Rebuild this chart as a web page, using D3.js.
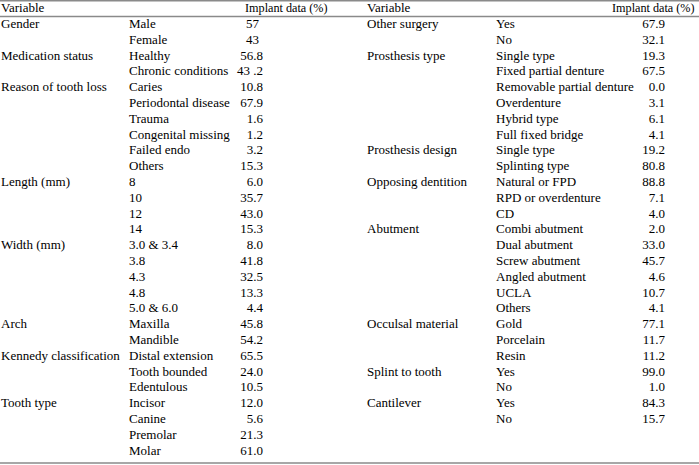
<!DOCTYPE html>
<html>
<head>
<meta charset="utf-8">
<script src="https://cdn.jsdelivr.net/npm/d3@7"></script>
<style>
  body { margin: 0; background: #fff; }
  svg { display: block; font-family: "Liberation Serif", "Times New Roman", serif; }
</style>
</head>
<body>
<svg width="699" height="465"></svg>
<script>
// left half of the table
const leftVars = ["Gender", "Medication status", "Reason of tooth loss", "Length (mm)", "Width (mm)",
                  "Arch", "Kennedy classification", "Tooth type"];
const leftCats = [
  ["Male", "Female"],
  ["Healthy", "Chronic conditions"],
  ["Caries", "Periodontal disease", "Trauma", "Congenital missing", "Failed endo", "Others"],
  ["8", "10", "12", "14"],
  ["3.0 & 3.4", "3.8", "4.3", "4.8", "5.0 & 6.0"],
  ["Maxilla", "Mandible"],
  ["Distal extension", "Tooth bounded", "Edentulous"],
  ["Incisor", "Canine", "Premolar", "Molar"]
];
const leftVals = [
  ["57", "43"],
  ["56.8", "43 .2"],
  ["10.8", "67.9", "1.6", "1.2", "3.2", "15.3"],
  ["6.0", "35.7", "43.0", "15.3"],
  ["8.0", "41.8", "32.5", "13.3", "4.4"],
  ["45.8", "54.2"],
  ["65.5", "24.0", "10.5"],
  ["12.0", "5.6", "21.3", "61.0"]
];

// right half of the table
const rightVars = ["Other surgery", "Prosthesis type", "Prosthesis design", "Opposing dentition",
                   "Abutment", "Occulsal material", "Splint to tooth", "Cantilever"];
const rightCats = [
  ["Yes", "No"],
  ["Single type", "Fixed partial denture", "Removable partial denture", "Overdenture", "Hybrid type", "Full fixed bridge"],
  ["Single type", "Splinting type"],
  ["Natural or FPD", "RPD or overdenture", "CD"],
  ["Combi abutment", "Dual abutment", "Screw abutment", "Angled abutment", "UCLA", "Others"],
  ["Gold", "Porcelain", "Resin"],
  ["Yes", "No"],
  ["Yes", "No"]
];
const rightVals = [
  ["67.9", "32.1"],
  ["19.3", "67.5", "0.0", "3.1", "6.1", "4.1"],
  ["19.2", "80.8"],
  ["88.8", "7.1", "4.0"],
  ["2.0", "33.0", "45.7", "4.6", "10.7", "4.1"],
  ["77.1", "11.7", "11.2"],
  ["99.0", "1.0"],
  ["84.3", "15.7"]
];

const header = ["Variable", "Implant data (%)"];

const svg = d3.select("svg"),
      W = +svg.attr("width");

function flatten(vars, cats, vals) {
  const rows = [];
  vars.forEach((v, i) => {
    cats[i].forEach((c, j) => {
      rows.push({ variable: j === 0 ? v : "", cat: c, val: vals[i][j] });
    });
  });
  return rows;
}

const leftRows = flatten(leftVars, leftCats, leftVals);
const rightRows = flatten(rightVars, rightCats, rightVals);

// row positions (baselines)
const nRows = Math.max(leftRows.length, rightRows.length);
const y = d3.scaleLinear().domain([0, nRows - 1]).range([28, 28 + (nRows - 1) * 15.8]);

const fs = 13;

function drawHalf(rows, x0, xCat, xVal, xHead) {
  const g = svg.append("g");
  g.append("text").attr("x", x0).attr("y", 12).attr("font-size", fs).text(header[0]);
  g.append("text").attr("x", xHead).attr("y", 12).attr("font-size", 12.2).text(header[1]);

  const r = g.selectAll("g.row").data(rows).join("g").attr("class", "row")
    .attr("transform", (d, i) => `translate(0,${y(i)})`);
  r.append("text").attr("x", x0).attr("font-size", fs).text(d => d.variable);
  r.append("text").attr("x", xCat).attr("font-size", fs).text(d => d.cat);
  r.append("text").attr("x", d => d.val.includes(".") ? xVal : xVal - 4)
    .attr("text-anchor", "end").attr("font-size", fs).text(d => d.val);
}

drawHalf(leftRows, 1, 129, 263, 245);
drawHalf(rightRows, 367, 496, 665, 612);

// rules
[0.75, 16.5, 463].forEach(yy => {
  svg.append("line").attr("x1", 0).attr("x2", W).attr("y1", yy).attr("y2", yy)
    .attr("stroke", "#8a8a8a").attr("stroke-width", 1.5);
});
</script>
</body>
</html>
